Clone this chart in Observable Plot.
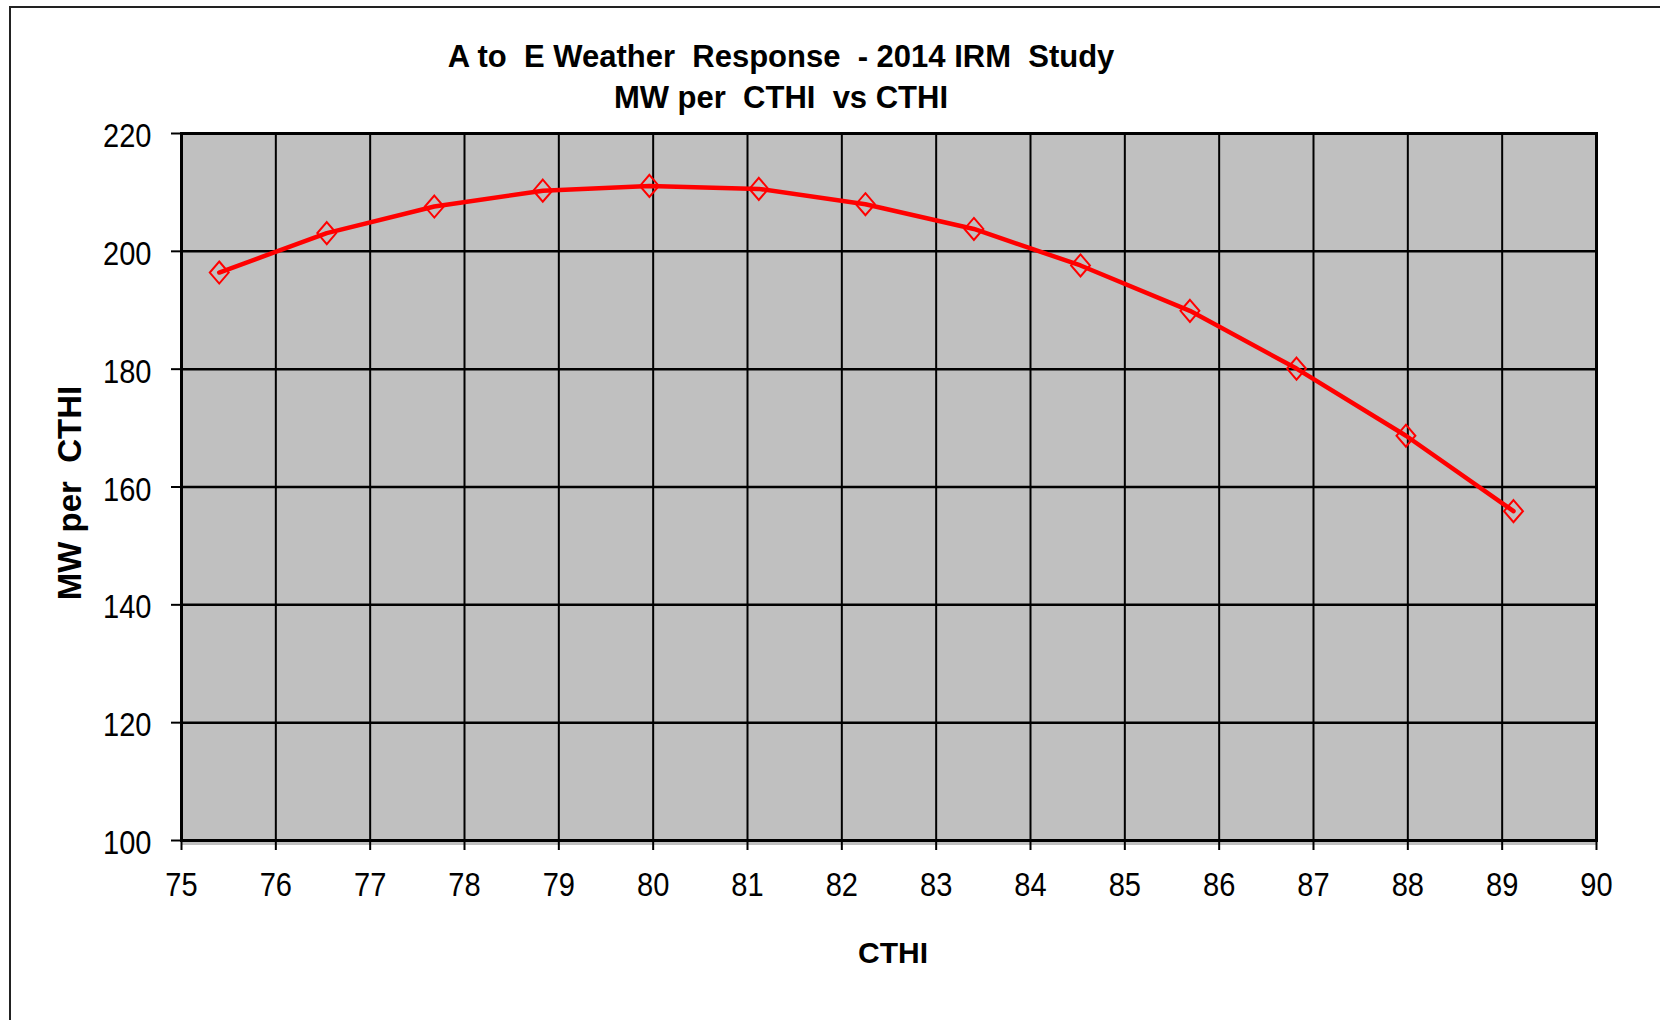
<!DOCTYPE html>
<html>
<head>
<meta charset="utf-8">
<script src="https://cdn.jsdelivr.net/npm/d3@7"></script>
<script src="https://cdn.jsdelivr.net/npm/@observablehq/plot@0.6"></script>
<style>
  html, body { margin: 0; padding: 0; background: #fff; }
  #wrap { position: relative; width: 1660px; height: 1020px; overflow: hidden; background: #fff; }
  #border { position: absolute; left: 9px; top: 6px; width: 1700px; height: 1100px;
            border-left: 2.5px solid #222; border-top: 2.5px solid #222; box-sizing: border-box; }
  .title { position: absolute; left: 0; width: 1562px; text-align: center; white-space: pre;
           font-family: "Liberation Sans", Arial, sans-serif; font-weight: bold; font-size: 31px;
           line-height: 31px; color: #000; }
  #chart { position: absolute; left: 0; top: 0; }
</style>
</head>
<body>
<div id="wrap">
  <div id="border"></div>
  <div id="chart"></div>
  <div class="title" style="top:41px">A to  E Weather  Response  - 2014 IRM  Study</div>
  <div class="title" style="top:82px">MW per  CTHI  vs CTHI</div>
</div>
<script>
// Data
const cthi = [75.40, 76.54, 77.68, 78.83, 79.96, 81.12, 82.25, 83.40, 84.53, 85.69, 86.82, 87.98, 89.12];
const mwPerCthi = [196.4, 203.1, 207.6, 210.3, 211.1, 210.6, 208.0, 203.8, 197.6, 189.9, 180.1, 168.7, 155.9];
const xTicks = [75, 76, 77, 78, 79, 80, 81, 82, 83, 84, 85, 86, 87, 88, 89, 90];
const yTicks = [100, 120, 140, 160, 180, 200, 220];
const xLabel = "CTHI";
const yLabel = "MW per  CTHI";

const data = cthi.map((x, i) => ({x, y: mwPerCthi[i]}));

const diamond = {
  draw(ctx, size) {
    const r = Math.sqrt(size / Math.PI);
    const w = r * 0.9, h = r * 1.05;
    ctx.moveTo(0, -h); ctx.lineTo(w, 0); ctx.lineTo(0, h); ctx.lineTo(-w, 0); ctx.closePath();
  }
};

const tickFont = "'Liberation Sans', Arial, sans-serif";

const chart = Plot.plot({
  width: 1660,
  height: 1020,
  marginLeft: 181,
  marginRight: 64,
  marginTop: 133,
  marginBottom: 180,
  x: {domain: [75, 90]},
  y: {domain: [100, 220]},
  style: {fontFamily: tickFont, fontSize: "33px", color: "#000", background: "transparent", overflow: "visible"},
  marks: [
    Plot.frame({fill: "#c0c0c0", stroke: null}),
    Plot.gridX(xTicks, {stroke: "#000", strokeOpacity: 1, strokeWidth: 2}),
    Plot.gridY(yTicks, {stroke: "#000", strokeOpacity: 1, strokeWidth: 2.5}),
    Plot.ruleY([100], {stroke: "#c0c0c0", strokeWidth: 3, dy: 3}),
    Plot.frame({stroke: "#000", strokeWidth: 3}),
    Plot.axisX({ticks: xTicks, tickSize: 10, tickPadding: 22, strokeWidth: 2, label: null, tickFormat: d => String(d), fontSize: 33}),
    Plot.axisY({ticks: yTicks, tickSize: 10, tickPadding: 20, strokeWidth: 2, label: null, tickFormat: d => String(d), fontSize: 33}),
    Plot.line(data, {x: "x", y: "y", stroke: "#ff0000", strokeWidth: 4.5}),
    Plot.dot(data, {x: "x", y: "y", symbol: diamond, r: 10.5, stroke: "#ff0000", strokeWidth: 2, fill: "none"}),
    Plot.text([xLabel], {frameAnchor: "bottom", dx: 4, dy: 122, fontWeight: "bold", fontFamily: "'Liberation Sans', Arial, sans-serif", fontSize: 30, fill: "#000"}),
    Plot.text([yLabel], {frameAnchor: "left", textAnchor: "middle", dx: -111, dy: 6, rotate: -90, fontWeight: "bold", fontFamily: "'Liberation Sans', Arial, sans-serif", fontSize: 33, fill: "#000"})
  ]
});
document.getElementById("chart").appendChild(chart);

// Condense tick labels to mimic the narrow typeface of the original
const svg = d3.select(chart);
svg.selectAll('g[aria-label="x-axis tick label"] text, g[aria-label="y-axis tick label"] text').each(function () {
  const len = this.getComputedTextLength();
  this.setAttribute("textLength", (len * 0.88).toFixed(2));
  this.setAttribute("lengthAdjust", "spacingAndGlyphs");
});
const yl = svg.select('g[aria-label="y-axis tick label"]');
yl.attr("transform", ((yl.attr("transform") || "") + " translate(0,3)").trim());
</script>
</body>
</html>
